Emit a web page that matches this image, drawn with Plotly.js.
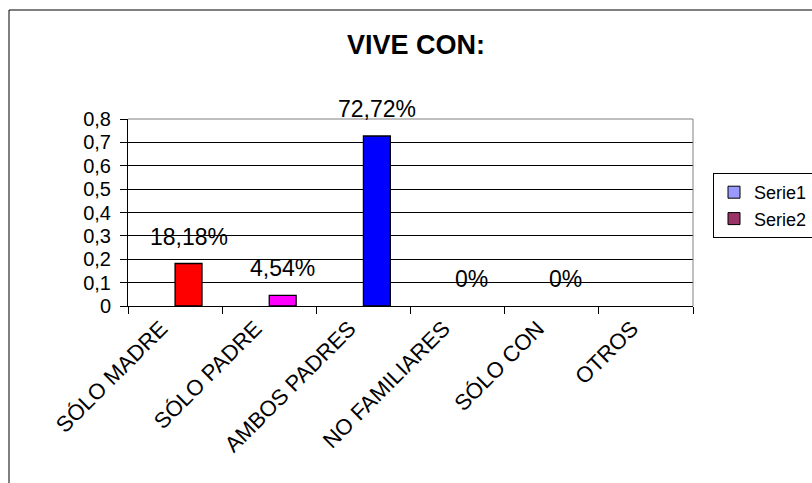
<!DOCTYPE html>
<html>
<head>
<meta charset="utf-8">
<script src="https://cdn.plot.ly/plotly-3.0.1.min.js"></script>
<style>
  html, body { margin: 0; padding: 0; background: #fff; }
  #chart { width: 812px; height: 483px; }
</style>
</head>
<body>
<div id="chart"></div>
<script>
const categories = ["SÓLO MADRE", "SÓLO PADRE", "AMBOS PADRES", "NO FAMILIARES", "SÓLO CON", "OTROS"];
const serie1Values = [null, null, null, null, null, null];
const serie2Values = [0.1818, 0.0454, 0.7272, 0, 0, null];
const serie2Labels = ["18,18%", "4,54%", "72,72%", "0%", "0%", null];
const serie2Colors = ["#FF0000", "#FF00FF", "#0000FF", "#FF0000", "#FF0000", "#FF0000"];
const yTickVals = [0, 0.1, 0.2, 0.3, 0.4, 0.5, 0.6, 0.7, 0.8];
const yTickText = ["0", "0,1", "0,2", "0,3", "0,4", "0,5", "0,6", "0,7", "0,8"];

const FONT = "Liberation Sans, Arial, sans-serif";

const W = 812, H = 483;
const M = { l: 128, r: 119, t: 119, b: 177, autoexpand: false };
const pw = W - M.l - M.r, ph = H - M.t - M.b;
const px2x = p => (p - M.l) / pw;
const py2y = p => (H - M.b - p) / ph;

const traces = [
  {
    type: "bar", name: "Serie1", x: categories, y: serie1Values,
    offsetgroup: "1",
    marker: { color: "#9999FF", line: { color: "#000", width: 1 } },
    hoverinfo: "skip"
  },
  {
    type: "bar", name: "Serie2", x: categories, y: serie2Values,
    offsetgroup: "2", showlegend: false,
    marker: {
      color: serie2Colors,
      line: { color: "#000", width: serie2Values.map(v => (v ? 1.3 : 0)) }
    },
    hoverinfo: "skip"
  },
  {
    type: "bar", name: "Serie2", x: [categories[0]], y: [null],
    offsetgroup: "2",
    marker: { color: "#993366", line: { color: "#000", width: 1 } },
    hoverinfo: "skip"
  }
];

const annotations = [];
categories.forEach((c, i) => {
  if (serie2Labels[i] !== null) {
    annotations.push({
      x: c, y: serie2Values[i], xref: "x", yref: "y",
      text: serie2Labels[i], showarrow: false,
      xanchor: "center", yanchor: "middle",
      xshift: 13.5, yshift: 27,
      font: { family: FONT, size: 23, color: "#000" }
    });
  }
});

const layout = {
  width: W, height: H,
  margin: M,
  paper_bgcolor: "#fff", plot_bgcolor: "#fff",
  font: { family: FONT, color: "#000" },
  title: {
    text: "<b>VIVE CON:</b>",
    font: { family: FONT, size: 27, color: "#000" },
    x: 416 / W, xanchor: "center", xref: "container",
    y: 1 - 45 / H, yanchor: "middle", yref: "container"
  },
  barmode: "group",
  bargap: 0.4286,
  bargroupgap: 0,
  xaxis: {
    type: "category",
    showline: true, linecolor: "#000", linewidth: 1,
    ticks: "outside", ticklen: 7, tickcolor: "#000", tickwidth: 1,
    tickson: "boundaries",
    tickangle: -45,
    ticklabelshift: -14,
    showgrid: false, zeroline: false,
    tickfont: { family: FONT, size: 22, color: "#000" },
    fixedrange: true
  },
  yaxis: {
    range: [0, 0.8],
    tickvals: yTickVals, ticktext: yTickText,
    showline: true, linecolor: "#000", linewidth: 1,
    ticks: "outside", ticklen: 7, tickcolor: "#000", tickwidth: 1,
    ticklabelstandoff: 5,
    showgrid: true, gridcolor: "#000", gridwidth: 1,
    zeroline: false,
    tickfont: { family: FONT, size: 20, color: "#000" },
    fixedrange: true
  },
  legend: {
    x: px2x(713), y: py2y(173), xanchor: "left", yanchor: "top",
    bgcolor: "#fff", bordercolor: "#000", borderwidth: 1,
    font: { family: FONT, size: 18, color: "#000" },
    tracegroupgap: 0, itemwidth: 30
  },
  annotations: annotations,
  shapes: [
    { type: "line", xref: "paper", yref: "paper", x0: 0, x1: 1, y0: 1, y1: 1,
      line: { color: "#808080", width: 1 }, layer: "above" },
    { type: "line", xref: "paper", yref: "paper", x0: 1, x1: 1, y0: 0, y1: 1,
      line: { color: "#808080", width: 1 }, layer: "above" },
    { type: "line", xref: "paper", yref: "paper", x0: px2x(9), x1: px2x(830), y0: py2y(10), y1: py2y(10),
      line: { color: "#000", width: 1 } },
    { type: "line", xref: "paper", yref: "paper", x0: px2x(9), x1: px2x(9), y0: py2y(10), y1: py2y(500),
      line: { color: "#000", width: 1 } }
  ]
};

Plotly.newPlot("chart", traces, layout, { displayModeBar: false, staticPlot: true });
</script>
</body>
</html>
